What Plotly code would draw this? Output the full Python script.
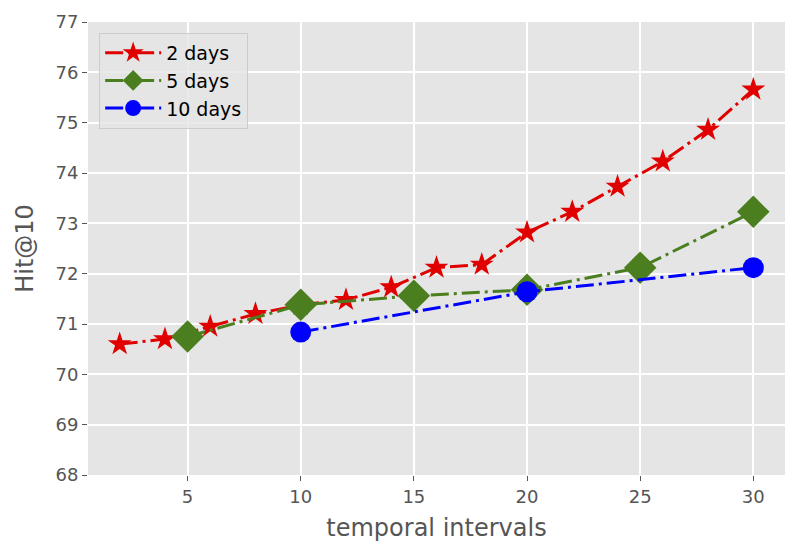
import plotly.graph_objects as go

x_2days = [2, 4, 6, 8, 10, 12, 14, 16, 18, 20, 22, 24, 26, 28, 30]
y_2days = [70.6, 70.7, 70.95, 71.2, 71.38, 71.48, 71.73, 72.12, 72.18, 72.82, 73.23, 73.73, 74.23, 74.86, 75.66]
x_5days = [5, 10, 15, 20, 25, 30]
y_5days = [70.75, 71.38, 71.56, 71.68, 72.12, 73.23]
x_10days = [10, 20, 30]
y_10days = [70.84, 71.64, 72.12]

dash = "18px,5px,3px,5px"

fig = go.Figure()
fig.add_trace(go.Scatter(x=x_2days, y=y_2days, name="2 days", mode="lines+markers",
                         line=dict(color="#E00000", width=3, dash=dash),
                         marker=dict(symbol="star", size=18, color="#E00000")))
fig.add_trace(go.Scatter(x=x_5days, y=y_5days, name="5 days", mode="lines+markers",
                         line=dict(color="#4A7E1E", width=3, dash=dash),
                         marker=dict(symbol="diamond", size=25, color="#4A7E1E")))
fig.add_trace(go.Scatter(x=x_10days, y=y_10days, name="10 days", mode="lines+markers",
                         line=dict(color="#0000FF", width=3, dash=dash),
                         marker=dict(symbol="circle", size=21, color="#0000FF")))

axis_common = dict(showgrid=True, gridcolor="white", gridwidth=1.5, zeroline=False,
                   ticks="outside", ticklen=5, tickcolor="#555555", showline=False,
                   tickfont=dict(family="DejaVu Sans", size=18, color="#555555"))

fig.update_xaxes(range=[0.6, 31.4], tickvals=[5, 10, 15, 20, 25, 30],
                 title=dict(text="temporal intervals", font=dict(family="DejaVu Sans", size=24, color="#555555"), standoff=13),
                 **axis_common)
fig.update_yaxes(range=[68, 77], tickvals=list(range(68, 78)),
                 title=dict(text="Hit@10", font=dict(family="DejaVu Sans", size=24, color="#555555"), standoff=15),
                 **axis_common)

fig.update_layout(
    width=808, height=558,
    margin=dict(l=88, r=23, t=22, b=83),
    paper_bgcolor="white", plot_bgcolor="#E5E5E5",
    font=dict(family="DejaVu Sans"),
    legend=dict(x=0.016, y=0.976, xanchor="left", yanchor="top",
                bgcolor="rgba(229,229,229,0.8)", bordercolor="#CCCCCC", borderwidth=1,
                font=dict(family="DejaVu Sans", size=19, color="black"),
                itemwidth=56, tracegroupgap=0),
    showlegend=True,
)

fig.write_html("out.html", config={"displayModeBar": False},
               post_script="document.body.style.margin='0';document.body.style.overflow='hidden';")
